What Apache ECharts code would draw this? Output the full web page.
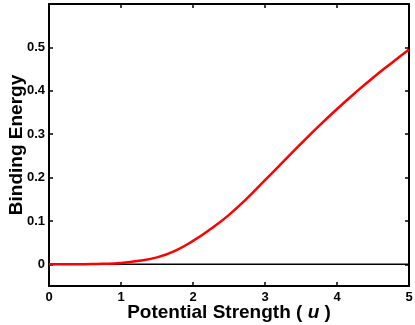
<!DOCTYPE html>
<html>
<head>
<meta charset="utf-8">
<script src="https://cdn.jsdelivr.net/npm/echarts@6/dist/echarts.min.js"></script>
<style>
  html, body { margin: 0; padding: 0; background: #fff; }
  #chart { width: 415px; height: 325px; }
</style>
</head>
<body>
<div id="chart"></div>
<script>
// potential strength u (x) and binding energy
var strength = [0, 0.25, 0.5, 0.75, 1, 1.25, 1.5, 1.75, 2, 2.25, 2.5, 2.75, 3, 3.25, 3.5, 3.75, 4, 4.25, 4.5, 4.75, 5]
var energy = [0, 0, 0.0003, 0.001, 0.003, 0.008, 0.016, 0.031, 0.054, 0.082, 0.114, 0.152, 0.194, 0.236, 0.278, 0.319, 0.358, 0.395, 0.43, 0.463, 0.495]
var zeroLine = [[0, 0], [5, 0]]
var yTicks = [0, 0.1, 0.2, 0.3, 0.4, 0.5]

var font = 'Liberation Sans, Arial, Helvetica, sans-serif'

var curve = strength.map(function (u, i) { return [u, energy[i]] })

// mirror axes on top / right: line + inward ticks only
var hiddenAxis = {
  axisLabel: { show: false },
  axisLine: { show: true, onZero: false, lineStyle: { color: '#000', width: 2 } },
  splitLine: { show: false }
}

var option = {
  animation: false,
  backgroundColor: '#fff',
  grid: { left: 49, right: 6, top: 4, bottom: 39, containLabel: false, outerBoundsMode: 'none' },
  xAxis: [
    {
      type: 'value',
      min: 0,
      max: 5,
      interval: 1,
      name: '{a|Potential Strength ( }{b|u}{a| )}',
      nameLocation: 'middle',
      nameGap: 17,
      nameMoveOverlap: false,
      nameTextStyle: {
        rich: {
          a: { fontFamily: font, fontWeight: 'bold', fontSize: 19, color: '#000' },
          b: { fontFamily: font, fontWeight: 'bold', fontStyle: 'italic', fontSize: 19, color: '#000' }
        }
      },
      axisLine: { onZero: false, lineStyle: { color: '#000', width: 2 } },
      axisTick: { inside: true, length: 4, lineStyle: { color: '#000', width: 1.5 } },
      axisLabel: { color: '#000', fontFamily: font, fontWeight: 'bold', fontSize: 13, margin: 5 },
      splitLine: { show: false }
    },
    Object.assign({
      type: 'value', position: 'top', min: 0, max: 5, interval: 1,
      axisTick: { inside: true, length: 4, lineStyle: { color: '#000', width: 1.5 } }
    }, hiddenAxis)
  ],
  yAxis: [
    {
      type: 'value',
      min: -0.05,
      max: 0.6,
      name: 'Binding Energy',
      nameLocation: 'middle',
      nameRotate: 90,
      nameGap: 23,
      nameMoveOverlap: false,
      nameTextStyle: { fontFamily: font, fontWeight: 'bold', fontSize: 19, color: '#000' },
      axisLine: { onZero: false, lineStyle: { color: '#000', width: 2 } },
      axisTick: { inside: true, length: 4, customValues: yTicks, lineStyle: { color: '#000', width: 1.5 } },
      axisLabel: { color: '#000', fontFamily: font, fontWeight: 'bold', fontSize: 13, margin: 4, customValues: yTicks },
      splitLine: { show: false }
    },
    Object.assign({
      type: 'value', position: 'right', min: -0.05, max: 0.6,
      axisTick: { inside: true, length: 4, customValues: yTicks, lineStyle: { color: '#000', width: 1.5 } }
    }, hiddenAxis)
  ],
  series: [
    {
      type: 'line',
      data: zeroLine,
      showSymbol: false,
      lineStyle: { color: '#000', width: 1.5 },
      z: 1
    },
    {
      type: 'line',
      data: curve,
      smooth: true,
      showSymbol: false,
      lineStyle: { color: '#ff0000', width: 2.5 },
      z: 2
    }
  ]
}

var chart = echarts.init(document.getElementById('chart'))
chart.setOption(option)
</script>
</body>
</html>
